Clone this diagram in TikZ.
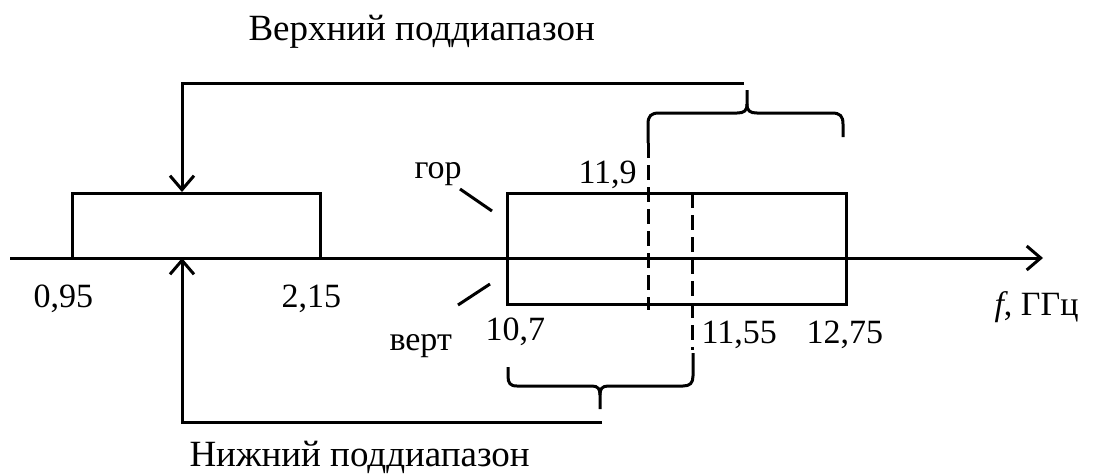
\documentclass[tikz,border=0pt]{standalone}
\usepackage{fontspec}
\setmainfont{Liberation Serif}
\usetikzlibrary{arrows.meta}
\begin{document}
\begin{tikzpicture}[x=1pt,y=-1pt,line width=3pt,
  ar/.style={-{Straight Barb[length=14pt,width=24pt]}},
  lab/.style={anchor=base west,inner sep=0pt,font=\fontsize{34}{40}\selectfont},
  ttl/.style={anchor=base west,inner sep=0pt,font=\fontsize{37}{44}\selectfont},
  dsh/.style={dash pattern=on 15pt off 7pt},
  bx/.style={draw,inner sep=0pt,outer sep=0pt}]
\useasboundingbox (0,0) rectangle (1100,475);
% boxes
\node[bx,minimum width=248pt,minimum height=65pt,anchor=south west] (lbox) at (72,258) {};
\node[bx,minimum width=339pt,minimum height=111pt,anchor=north west] (rbox) at (507,193) {};
% axis
\coordinate (ax0) at (10,258);
\coordinate (ax1) at (1043,258);
\draw[ar] (ax0) -- (ax1);
% dashed lines
\coordinate (d1a) at (648,143); \coordinate (d1b) at (648,310);
\coordinate (d2a) at (692,193); \coordinate (d2b) at (692,350);
\draw[dsh] (d1a) -- (d1b);
\draw[dsh] (d2a) -- (d2b);
% upper brace
\coordinate (ubt) at (747,90);
\draw (648,143) -- (648,124) .. controls (648,116) and (651,113) .. (659,113) -- (737,113)
  .. controls (744,113) and (747,111) .. (747,104) -- (ubt);
\draw (747,104) .. controls (747,111) and (750,113) .. (757,113) -- (832,113)
  .. controls (840,113) and (843,116) .. (843,124) -- (843,137);
% upper connector
\coordinate (ustart) at (744,83);
\coordinate (ucorner) at (182,83);
\coordinate (dtip) at (182,192);
\draw[ar] (ustart) -- (ucorner) -- (dtip);
% lower brace
\coordinate (lbt) at (600,409);
\draw (693,353) -- (693,376) .. controls (693,383) and (690,386) .. (683,386) -- (608,386)
  .. controls (602,386) and (600,389) .. (600,395) -- (lbt);
\draw (600,395) .. controls (600,389) and (598,386) .. (592,386) -- (517,386)
  .. controls (510,386) and (508,383) .. (508,376) -- (508,367);
% lower connector
\coordinate (lstart) at (602,422);
\coordinate (lcorner) at (182,422);
\coordinate (utip) at (182,258);
\draw[ar] (lstart) -- (lcorner) -- (utip);
% polarisation marks
\draw (460,189) -- (492,211);
\draw (458,305) -- (490,284);
% labels
\node[ttl] (t1) at (247,40) {Верхний поддиапазон};
\node[ttl] (t2) at (188,466) {Нижний поддиапазон};
\node[lab] (n095) at (32,307) {0,95};
\node[lab] (n215) at (280,307) {2,15};
\node[lab] (gor) at (413,178) {гор};
\node[lab] (vert) at (388,350) {верт};
\node[lab] (n119) at (577,183) {11,9};
\node[lab] (n107) at (484,340) {10,7};
\node[lab] (n1155) at (700,343) {11,55};
\node[lab] (n1275) at (805,343) {12,75};
\node[lab] (fl) at (993,315) {\textit{f}, ГГц};
\end{tikzpicture}
\end{document}
